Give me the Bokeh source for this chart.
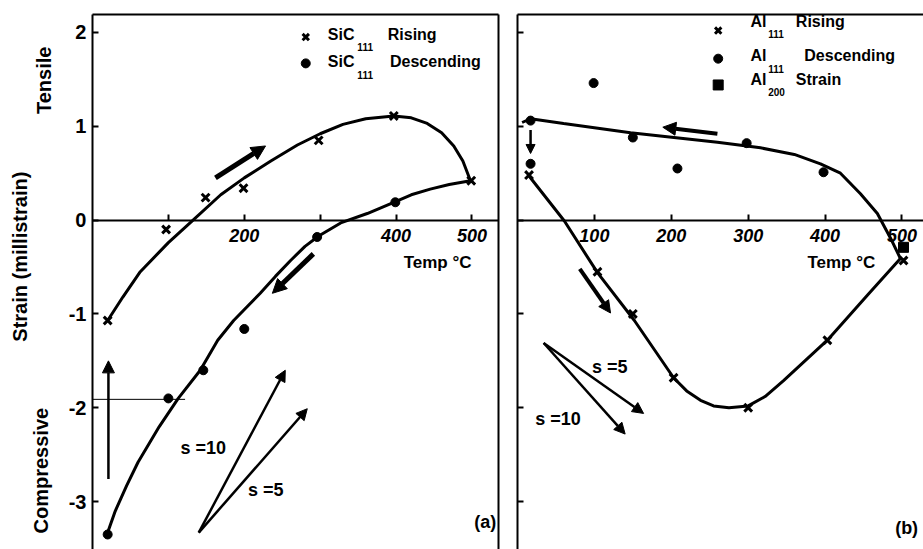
import math
from bokeh.plotting import figure
from bokeh.layouts import row
from bokeh.models import Range1d, FixedTicker, Label, Arrow, NormalHead, LinearAxis
from bokeh.embed import file_html
from bokeh.resources import INLINE

# ---------------- data ----------------
# (a) SiC
sic_rise_T = [20, 97, 149, 199, 298, 397, 499]
sic_rise_S = [-1.07, -0.10, 0.24, 0.34, 0.85, 1.11, 0.42]
sic_desc_T = [399, 296, 200, 146, 100, 20]
sic_desc_S = [0.19, -0.18, -1.16, -1.60, -1.90, -3.35]
sic_rise_fit_T = [20, 40, 63, 100, 130, 169, 200, 235, 270, 300, 330, 360, 397, 420, 441, 460, 476, 488, 498]
sic_rise_fit_S = [-1.07, -0.82, -0.55, -0.24, -0.02, 0.27, 0.45, 0.63, 0.80, 0.92, 1.02, 1.08, 1.11, 1.09, 1.03, 0.93, 0.79, 0.63, 0.42]
sic_desc_fit_T = [498, 470, 445, 420, 397, 362, 327, 298, 280, 261, 241, 221, 186, 165, 142, 113, 88, 60, 45, 30, 20]
sic_desc_fit_S = [0.42, 0.38, 0.33, 0.27, 0.19, 0.07, -0.03, -0.17, -0.28, -0.43, -0.60, -0.78, -1.07, -1.28, -1.60, -1.90, -2.20, -2.58, -2.83, -3.10, -3.33]

# (b) Al
al_rise_T = [15, 104, 150, 203, 300, 403, 502]
al_rise_S = [0.48, -0.55, -1.00, -1.68, -2.00, -1.28, -0.43]
al_desc_T = [17, 99, 150, 208, 298, 398, 17]
al_desc_S = [1.06, 1.46, 0.88, 0.55, 0.82, 0.51, 0.60]
al200_T = [502]
al200_S = [-0.29]
al_desc_fit_T = [6, 17, 60, 147, 260, 316, 360, 394, 420, 446, 468, 485, 498]
al_desc_fit_S = [1.04, 1.08, 1.03, 0.93, 0.83, 0.77, 0.70, 0.60, 0.50, 0.28, 0.07, -0.19, -0.41]
al_rise_fit_T = [15, 61, 104, 152, 203, 220, 238, 255, 275, 300, 322, 346, 403, 455, 498]
al_rise_fit_S = [0.47, -0.01, -0.56, -1.07, -1.68, -1.82, -1.92, -1.98, -2.00, -1.98, -1.88, -1.71, -1.28, -0.80, -0.41]

y_ticks = [-3, -2, -1, 0, 1, 2]
left_x_labeled = [200, 400, 500]
left_x_unlabeled = [100, 300]
right_x_labeled = [100, 200, 300, 400, 500]

FONT = "Liberation Sans"
Y_LO, Y_TOP, Y_VIEW_TOP = -3.51, 2.19, 2.34


def border_axis(fixed, bounds):
    ax = LinearAxis(fixed_location=fixed, bounds=bounds, ticker=FixedTicker(ticks=[]))
    ax.axis_line_width = 2
    ax.major_tick_line_color = None
    ax.minor_tick_line_color = None
    return ax


def style_ticks(ax):
    ax.axis_line_width = 2
    ax.major_tick_in = 6
    ax.major_tick_out = 0
    ax.major_tick_line_width = 2
    ax.minor_tick_in = 6
    ax.minor_tick_out = 0
    ax.minor_tick_line_width = 2
    ax.minor_tick_line_color = "black"


def make_fig(width, x_start, x_end, frame_right, x_major, x_minor, y_major, y_minor):
    p = figure(width=width, height=549, x_range=Range1d(x_start, x_end), y_range=Range1d(Y_LO, Y_VIEW_TOP),
               output_backend="svg", toolbar_location=None,
               min_border_left=0, min_border_right=0, min_border_top=0, min_border_bottom=0)
    p.grid.visible = False
    p.outline_line_color = None
    p.background_fill_color = "white"
    p.border_fill_color = "white"
    # x axis drawn at strain = 0
    xa = p.xaxis[0]
    xa.fixed_location = 0
    xa.bounds = (0, frame_right)
    xa.ticker = FixedTicker(ticks=x_major, minor_ticks=x_minor)
    style_ticks(xa)
    xa.major_label_standoff = 9
    xa.major_label_text_font = FONT
    xa.major_label_text_font_style = "bold italic"
    xa.major_label_text_font_size = "18px"
    xa.major_label_text_color = "black"
    # y axis drawn at T = 0
    ya = p.yaxis[0]
    ya.fixed_location = 0
    ya.bounds = (Y_LO, Y_TOP)
    ya.ticker = FixedTicker(ticks=y_major, minor_ticks=y_minor)
    style_ticks(ya)
    ya.major_label_text_font = FONT
    ya.major_label_text_font_style = "bold"
    ya.major_label_text_font_size = "20px"
    ya.major_label_text_color = "black"
    ya.major_label_standoff = 6
    ya.major_label_overrides = {t: str(t) for t in y_major}
    # top border
    p.add_layout(border_axis(Y_TOP, (0, frame_right)), "above")
    return p


def lab(p, x, y, text, size=16, align="left", baseline="middle", angle=0.0, style="bold"):
    p.add_layout(Label(x=x, y=y, text=text, text_font=FONT, text_font_size=f"{size}px",
                       text_font_style=style, text_align=align, text_baseline=baseline,
                       angle=angle, text_color="black"))


def arrow(p, x0, y0, x1, y1, lw=4, size=14):
    p.add_layout(Arrow(end=NormalHead(size=size, fill_color="black", line_color="black", line_width=1),
                       x_start=x0, y_start=y0, x_end=x1, y_end=y1,
                       line_width=lw, line_color="black"))


# ---------------- panel (a) ----------------
pa = make_fig(507, -121.2, 546.8, 535, left_x_labeled, left_x_unlabeled, y_ticks, [])
pa.add_layout(border_axis(535, (Y_LO, Y_TOP)), "right")
pa.line(sic_rise_fit_T, sic_rise_fit_S, line_width=3, line_color="black")
pa.line(sic_desc_fit_T, sic_desc_fit_S, line_width=3, line_color="black")
pa.scatter(sic_rise_T, sic_rise_S, marker="x", size=11, line_width=3, line_color="black")
pa.scatter(sic_desc_T, sic_desc_S, marker="circle", size=9, fill_color="black", line_color="black")
pa.line([0, 122], [-1.91, -1.91], line_width=1, line_color="black")

arrow(pa, 162, 0.45, 228, 0.79, lw=5, size=14)
arrow(pa, 291, -0.36, 237, -0.78, lw=5, size=14)
arrow(pa, 21, -2.76, 21, -1.50, lw=2.5, size=12)
arrow(pa, 140, -3.33, 254, -1.60, lw=2.5, size=11)
arrow(pa, 140, -3.33, 283, -2.01, lw=2.5, size=11)

# legend (a)
pa.scatter([281], [1.95], marker="x", size=9, line_width=3, line_color="black")
pa.scatter([281], [1.67], marker="circle", size=9, fill_color="black", line_color="black")
lab(pa, 310, 1.98, "SiC", 16)
lab(pa, 349, 1.84, "111", 10)
lab(pa, 389, 1.98, "Rising", 16)
lab(pa, 310, 1.69, "SiC", 16)
lab(pa, 349, 1.55, "111", 10)
lab(pa, 392, 1.69, "Descending", 16)

lab(pa, 410, -0.45, "Temp °C", 17)
lab(pa, 116, -2.43, "s =10", 18)
lab(pa, 205, -2.88, "s =5", 18)
lab(pa, 532, -3.22, "(a)", 18, align="right")

# y-axis titles
lab(pa, -64, 1.49, "Tensile", 20, align="center", angle=math.pi / 2)
lab(pa, -95, -0.39, "Strain (millistrain)", 20, align="center", angle=math.pi / 2)
lab(pa, -68, -2.67, "Compressive", 20, align="center", angle=math.pi / 2)

# ---------------- panel (b) ----------------
pb = make_fig(416, -13, 528, 528, right_x_labeled, [], [], y_ticks)
pb.line(al_desc_fit_T, al_desc_fit_S, line_width=3, line_color="black")
pb.line(al_rise_fit_T, al_rise_fit_S, line_width=3, line_color="black")
pb.scatter(al_rise_T, al_rise_S, marker="x", size=11, line_width=3, line_color="black")
pb.scatter(al_desc_T, al_desc_S, marker="circle", size=9, fill_color="black", line_color="black")
pb.scatter(al200_T, al200_S, marker="square", size=10, fill_color="black", line_color="black")

arrow(pb, 260, 0.92, 189, 0.99, lw=4, size=13)
arrow(pb, 17, 0.96, 17, 0.71, lw=2.5, size=9)
arrow(pb, 81, -0.52, 121, -0.99, lw=4, size=12)
arrow(pb, 34, -1.31, 164, -2.06, lw=2.5, size=11)
arrow(pb, 34, -1.31, 140, -2.28, lw=2.5, size=11)

# legend (b)
pb.scatter([261], [2.02], marker="x", size=9, line_width=3, line_color="black")
pb.scatter([261], [1.72], marker="circle", size=9, fill_color="black", line_color="black")
pb.scatter([261], [1.44], marker="square", size=10, fill_color="black", line_color="black")
lab(pb, 303, 2.12, "Al", 16)
lab(pb, 326, 1.98, "111", 10)
lab(pb, 362, 2.12, "Rising", 16)
lab(pb, 303, 1.75, "Al", 16)
lab(pb, 326, 1.61, "111", 10)
lab(pb, 373, 1.75, "Descending", 16)
lab(pb, 303, 1.50, "Al", 16)
lab(pb, 326, 1.36, "200", 10)
lab(pb, 362, 1.50, "Strain", 16)

lab(pb, 377, -0.45, "Temp °C", 17)
lab(pb, 97, -1.57, "s =5", 18)
lab(pb, 23, -2.12, "s =10", 18)
lab(pb, 521, -3.28, "(b)", 18, align="right")

layout = row(pa, pb)
open("out.html", "w").write(file_html(layout, INLINE))
